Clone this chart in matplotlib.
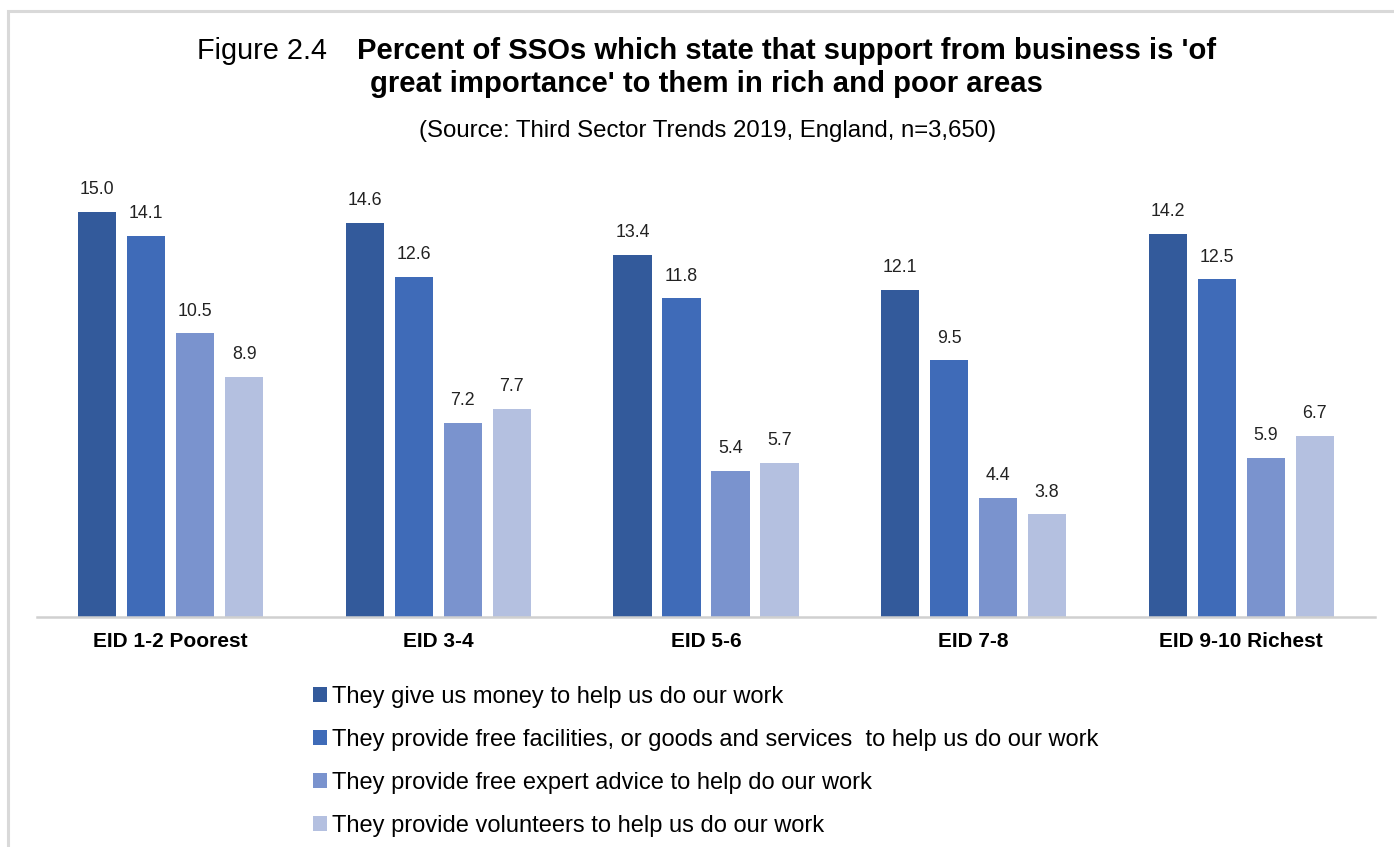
import matplotlib.pyplot as plt
import numpy as np
from matplotlib.patches import Rectangle

plt.rcParams['font.family'] = ['Liberation Sans', 'DejaVu Sans']

categories = ['EID 1-2 Poorest', 'EID 3-4', 'EID 5-6', 'EID 7-8', 'EID 9-10 Richest']
series_names = [
    'They give us money to help us do our work',
    'They provide free facilities, or goods and services  to help us do our work',
    'They provide free expert advice to help do our work',
    'They provide volunteers to help us do our work',
]
money = [15.0, 14.6, 13.4, 12.1, 14.2]
facilities = [14.1, 12.6, 11.8, 9.5, 12.5]
advice = [10.5, 7.2, 5.4, 4.4, 5.9]
volunteers = [8.9, 7.7, 5.7, 3.8, 6.7]
colors = ['#335a9b', '#3f6bb8', '#7a93ce', '#b4c0e0']

W, H = 1394, 847
fig = plt.figure(figsize=(W / 100, H / 100), dpi=100)

# light grey frame round the chart area
fig.add_artist(Rectangle((8 / W, -0.01), 1.1, 1 - 11 / H + 0.01, transform=fig.transFigure,
                         fill=False, edgecolor='#d9d9d9', linewidth=2.2))

ax = fig.add_axes([37 / W, (H - 617) / H, (1375 - 37) / W, 432 / H])

x = np.arange(len(categories))
step = 0.183
bw = 0.143
for i, (vals, name, c) in enumerate(zip([money, facilities, advice, volunteers], series_names, colors)):
    bars = ax.bar(x + (i - 1.5) * step, vals, bw, color=c, label=name, zorder=2)
    ax.bar_label(bars, fmt='%.1f', padding=10, fontsize=12.8, color='#222222')

ax.set_xlim(-0.5, len(categories) - 0.5)
ax.set_ylim(0, 16)
ax.set_yticks([])
ax.set_xticks(x)
ax.set_xticklabels(categories, fontsize=15, fontweight='bold')
ax.tick_params(axis='x', length=0, pad=11)
for s in ['top', 'right', 'left']:
    ax.spines[s].set_visible(False)
ax.spines['bottom'].set_color('#d0d0d0')
ax.spines['bottom'].set_linewidth(1.8)

fig.text(197 / W, 1 - 51 / H, 'Figure 2.4', fontsize=20.8, va='center', ha='left')
fig.text(357 / W, 1 - 51 / H, "Percent of SSOs which state that support from business is 'of",
         fontsize=21.1, fontweight='bold', va='center', ha='left')
fig.text(370 / W, 1 - 84 / H, "great importance' to them in rich and poor areas",
         fontsize=21.1, fontweight='bold', va='center', ha='left')
fig.text(708 / W, 1 - 131 / H, '(Source: Third Sector Trends 2019, England, n=3,650)',
         fontsize=17.3, va='center', ha='center')

fig.legend(loc='upper left', bbox_to_anchor=(301 / W, 1 - 674 / H), frameon=False,
           fontsize=17, handlelength=0.6, handleheight=0.6, handletextpad=0.2,
           labelspacing=0.89, borderpad=0)

fig.savefig('out.png', dpi=100)
